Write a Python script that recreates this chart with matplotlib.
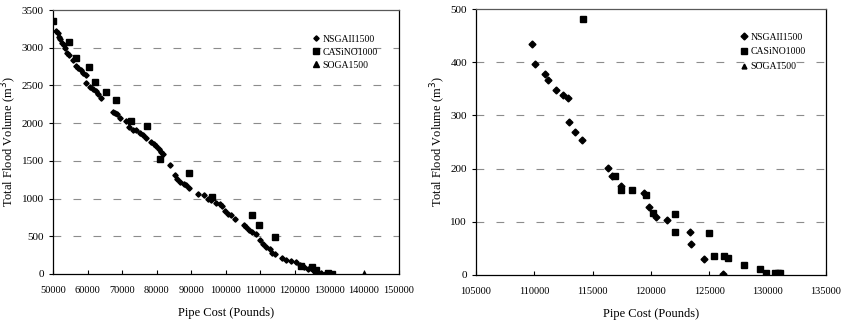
import numpy as np
import matplotlib.pyplot as plt

plt.rcParams['font.family'] = ['Liberation Serif', 'DejaVu Serif']

# left panel: full Pareto fronts
nsga_x = [50960, 51450, 51740, 52120, 52510, 53090, 53570, 54050, 54530, 55790,
          56560, 57230, 58000, 58680, 59450, 59450, 60610, 61570, 62340, 63020,
          63980, 67360, 67840, 68510, 69290, 71020, 72000, 73140, 74110, 75070,
          76040, 77000, 78450, 79220, 79890, 80660, 81340, 81820, 83750, 85390,
          85970, 86840, 87800, 88570, 89340, 92040, 93590, 94840, 95800, 97060,
          98210, 98990, 99660, 100630, 101590, 102560, 105160, 105930, 106700, 107670,
          108630, 109790, 110750, 111720, 112680, 113450, 114130, 116340, 117500, 118950,
          120200, 121360, 122520, 123770, 125210, 126180, 127620, 129070, 130520]
nsga_y = [3226, 3190, 3146, 3111, 3066, 3036, 2991, 2934, 2903, 2836,
          2757, 2726, 2704, 2668, 2637, 2527, 2474, 2447, 2429, 2385,
          2328, 2150, 2137, 2120, 2075, 2031, 1943, 1916, 1907, 1872,
          1841, 1810, 1752, 1721, 1699, 1655, 1620, 1589, 1443, 1310,
          1266, 1221, 1199, 1177, 1146, 1066, 1044, 1000, 978, 947,
          925, 898, 836, 801, 779, 735, 646, 624, 580, 558,
          535, 447, 403, 358, 336, 279, 261, 217, 181, 173,
          159, 115, 93, 71, 49, 27, 13, 9, 4]

casino_x = [50000, 54630, 56560, 60410, 62050, 65430, 68130, 72660, 77290, 80860,
            89340, 96000, 107670, 109600, 114130, 121840, 125020, 126180, 129550, 130810]
casino_y = [3360, 3080, 2860, 2750, 2540, 2416, 2305, 2030, 1965, 1530,
            1340, 1022, 779, 646, 491, 106, 93, 49, 13, 4]

soga_x = [140000]
soga_y = [5]

# right panel: close-up of the low flood region
nsga_x2 = [109770, 110060, 110910, 111170, 111830, 112430, 112890, 112970, 113510, 114110,
           116340, 116700, 117430, 119400, 119860, 120430, 121340, 123340, 123430, 124540,
           126140]
nsga_y2 = [435, 397, 377, 367, 348, 339, 332, 288, 268, 254,
           202, 187, 168, 154, 128, 109, 104, 81, 58, 30,
           2.5]

casino_x2 = [114140, 116900, 117430, 118340, 119570, 120200, 122060, 122060, 125000, 125400,
             126260, 126630, 127970, 129340, 129830, 130630, 130910, 131100]
casino_y2 = [482, 187, 159, 159, 151, 117, 115, 81, 79, 36,
             35, 31, 19, 12, 3, 3, 3, 3]

fig = plt.figure(figsize=(8.41, 3.25), dpi=100)
ax1 = fig.add_axes([0.063, 0.157, 0.411, 0.812])
ax2 = fig.add_axes([0.566, 0.154, 0.416, 0.818])

grid_style = dict(color='0.55', linestyle=(0, (7, 11)), linewidth=0.8)

ax1.plot(nsga_x, nsga_y, 'D', color='black', markersize=2.7, label='NSGAII1500', zorder=3)
ax1.plot(casino_x, casino_y, 's', color='black', markersize=4, label='CASiNO1000', zorder=3)
ax1.plot(soga_x, soga_y, '^', color='black', markersize=4, label='SOGA1500', zorder=3)
ax1.set_xlim(50000, 150000)
ax1.set_ylim(0, 3500)
ax1.set_xticks(np.arange(50000, 150001, 10000))
ax1.set_yticks(np.arange(0, 3501, 500))
for v in np.arange(500, 3001, 500):
    ax1.axhline(v, **grid_style, zorder=1)

ax2.plot(nsga_x2, nsga_y2, 'D', color='black', markersize=3.5, label='NSGAII1500', zorder=3)
ax2.plot(casino_x2, casino_y2, 's', color='black', markersize=4, label='CASiNO1000', zorder=3)
ax2.plot([], [], '^', color='black', markersize=3.5, label='SOGA1500')
ax2.set_xlim(105000, 135000)
ax2.set_ylim(0, 500)
ax2.set_xticks(np.arange(105000, 135001, 5000))
ax2.set_yticks(np.arange(0, 501, 100))
for v in [100, 200, 300, 400]:
    ax2.axhline(v, **grid_style, zorder=1)

for ax, anchor, spacing in [(ax1, (0.735, 0.925), 0.4), (ax2, (0.74, 0.93), 0.6)]:
    ax.tick_params(axis='x', direction='in', length=3, labelsize=7.5, pad=9)
    ax.tick_params(axis='y', direction='out', length=3, labelsize=8)
    for s in ax.spines.values():
        s.set_linewidth(0.9)
        s.set_color('black')
    ax.spines['top'].set_color('0.35')
    ax.set_xlabel('Pipe Cost (Pounds)', fontsize=9, labelpad=8)
    ax.set_ylabel('Total Flood Volume (m$^3$)', fontsize=9, labelpad=2)
    ax.legend(loc='upper left', bbox_to_anchor=anchor, frameon=False, fontsize=7,
              handlelength=0.8, handletextpad=0.3, labelspacing=spacing, borderpad=0)

fig.savefig('out.png', dpi=100)
